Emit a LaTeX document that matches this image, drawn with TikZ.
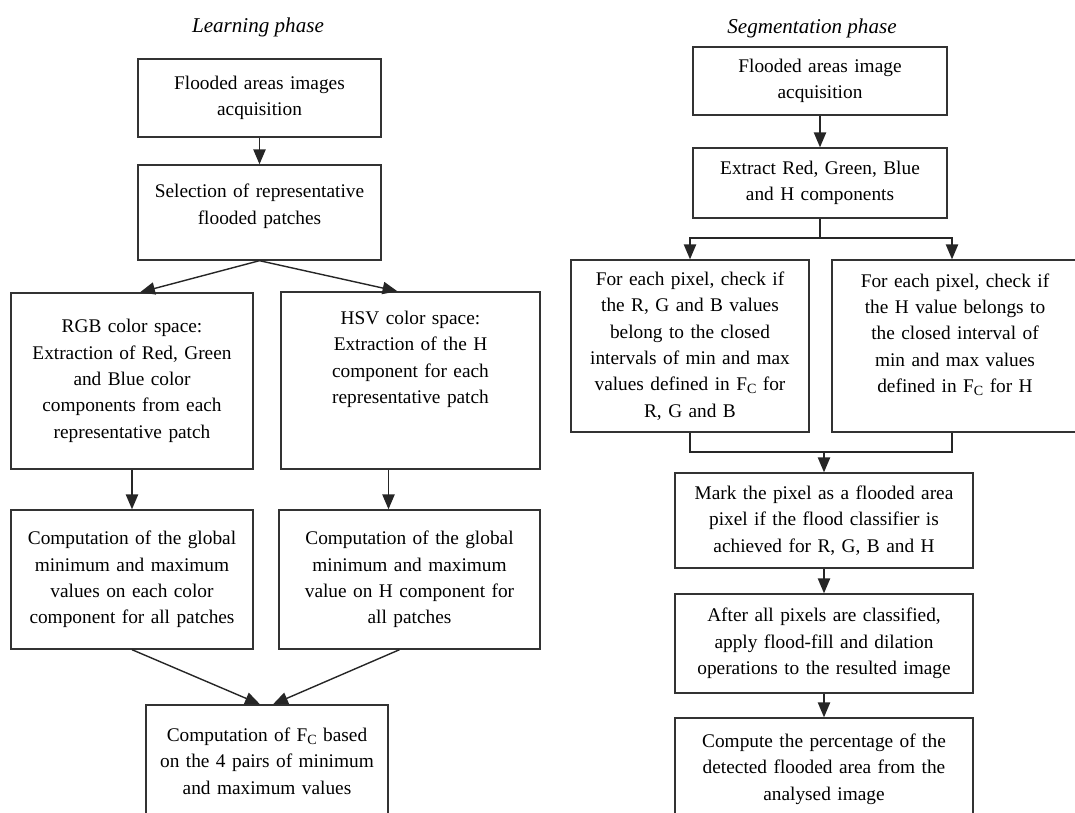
\documentclass[tikz,border=0pt]{standalone}
\usepackage{fontspec}
\setmainfont{Liberation Serif}
\usetikzlibrary{arrows.meta, calc}

\newcommand{\fcsub}{F\raisebox{-0.35ex}{\footnotesize C}}
\newcommand{\padbelow}[1]{\par\nointerlineskip\rule{0pt}{#1}}

\tikzset{
  block/.style={draw=black!80, line width=0.8pt, align=center, inner sep=0pt,
    font=\fontsize{11}{15}\selectfont},
  link/.style={draw=black!85, line width=0.8pt},
  arrow/.style={link, -{Triangle[length=8.5pt,width=7pt]}},
  phase/.style={font=\fontsize{12}{14}\selectfont\itshape}
}

\begin{document}
\begin{tikzpicture}[x=0.02cm, y=-0.02cm]

  \useasboundingbox (0,0) rectangle (1075,813);
  \clip (0,0) rectangle (1075,813);

    % learning phase
    \begin{scope}
      % title
      \node[phase] (ltitle) at (258,27) {Learning phase};

      % boxes
      \node[block, minimum width=4.86cm, minimum height=1.56cm, text width=4.6cm]
        (l1) at (259.5,98) {Flooded areas images\\ acquisition};
      \node[block, minimum width=4.86cm, minimum height=1.9cm, text width=4.6cm]
        (l2) at (259.5,212.5) {Selection of representative\\ flooded patches\padbelow{7pt}};
      \node[block, minimum width=4.84cm, minimum height=3.52cm, text width=4.6cm]
        (l3a) at (132,381) {RGB color space:\\ Extraction of Red, Green\\ and Blue color\\
          components from each\\ representative patch};
      \node[block, minimum width=5.18cm, minimum height=3.54cm, text width=4.9cm]
        (l3b) at (410.5,380.5) {HSV color space:\\ Extraction of the H\\ component for each\\
          representative patch\padbelow{24pt}};
      \node[block, minimum width=4.84cm, minimum height=2.78cm, text width=4.6cm]
        (l4a) at (132,579.5) {Computation of the global\\ minimum and maximum\\
          values on each color\\ component for all patches};
      \node[block, minimum width=5.22cm, minimum height=2.78cm, text width=4.9cm]
        (l4b) at (409.5,579.5) {Computation of the global\\ minimum and maximum\\
          value on H component for\\ all patches};
      \node[block, minimum width=4.84cm, minimum height=2.24cm, text width=4.6cm]
        (l5) at (267,761) {Computation of \fcsub{} based\\ on the 4 pairs of minimum\\
          and maximum values};

      % arrows
      \draw[arrow] (l1) -- (l2);
      \draw[arrow] (l2.south) -- ($(l3a.north)+(8,0)$);
      \draw[arrow] (l2.south) -- ($(l3b.north)+(-13,0)$);
      \draw[arrow] (l3a) -- (l4a);
      \draw[arrow] ($(l3b.south)+(-22,0)$) -- ($(l4b.north)+(-21,0)$);
      \draw[arrow] (l4a.south) -- ($(l5.north)+(-7,0)$);
      \draw[arrow] ($(l4b.south)+(-10,0)$) -- ($(l5.north)+(6,0)$);
    \end{scope}


    % segmentation phase
    \begin{scope}
      % title
      \node[phase] (rtitle) at (812,28) {Segmentation phase};

      % boxes
      \node[block, minimum width=5.08cm, minimum height=1.36cm, text width=4.8cm]
        (r1) at (820,81) {Flooded areas image\\ acquisition};
      \node[block, minimum width=5.08cm, minimum height=1.4cm, text width=4.8cm]
        (r2) at (820,183) {Extract Red, Green, Blue\\ and H components};
      \node[block, minimum width=4.76cm, minimum height=3.44cm, text width=4.5cm]
        (r3a) at (690,346) {For each pixel, check if\\ the R, G and B values\\
          belong to the closed\\ intervals of min and max\\ values defined in \fcsub{} for\\
          R, G and B};
      \node[block, minimum width=4.92cm, minimum height=3.44cm, text width=4.6cm]
        (r3b) at (955,346) {For each pixel, check if\\ the H value belongs to\\
          the closed interval of\\ min and max values\\ defined in \fcsub{} for H\padbelow{13pt}};
      \node[block, minimum width=5.96cm, minimum height=1.9cm, text width=5.7cm]
        (r4) at (824,520.5) {Mark the pixel as a flooded area\\ pixel if the flood classifier is\\
          achieved for R, G, B and H};
      \node[block, minimum width=5.96cm, minimum height=1.98cm, text width=5.7cm]
        (r5) at (824,643.5) {After all pixels are classified,\\ apply flood-fill and dilation\\
          operations to the resulted image};
      \node[block, minimum width=5.96cm, minimum height=2.04cm, text width=5.7cm]
        (r6) at (824,769) {Compute the percentage of the\\ detected flooded area from the\\
          analysed image};

      % split and join points
      \coordinate (rsplit) at (820,238);
      \coordinate (rjoin) at (824,452);

      % arrows
      \draw[arrow] (r1) -- (r2);
      \draw[link] (r2) -- (rsplit);
      \draw[arrow] (rsplit) -| (r3a.north);
      \draw[arrow] (rsplit) -| ($(r3b.north)+(-3,0)$);
      \draw[link] (r3a.south) |- (rjoin);
      \draw[link] ($(r3b.south)+(-3,0)$) |- (rjoin);
      \draw[arrow] (rjoin) -- (r4);
      \draw[arrow] (r4) -- (r5);
      \draw[arrow] (r5) -- (r6);
    \end{scope}

\end{tikzpicture}
\end{document}
